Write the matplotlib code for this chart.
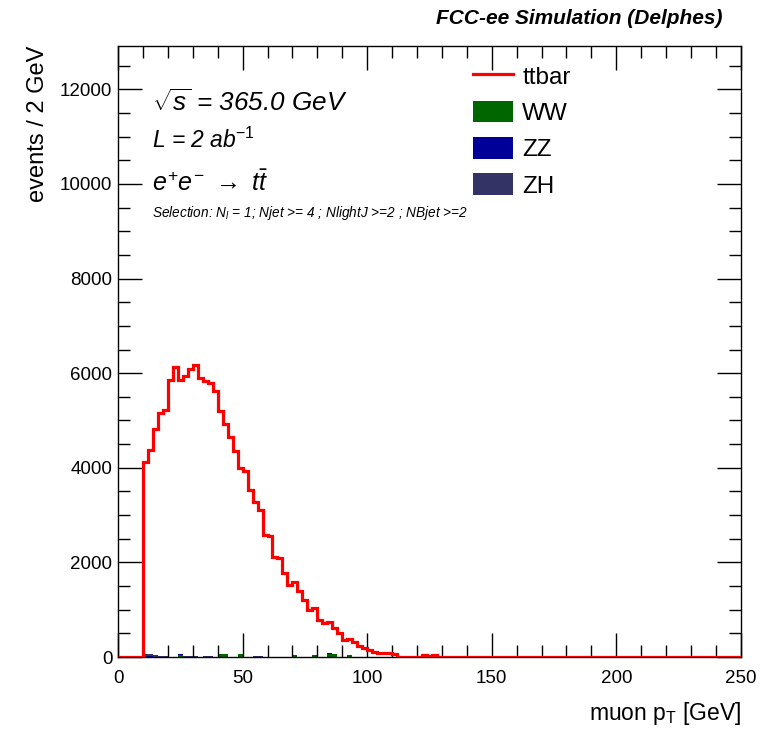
import numpy as np
import matplotlib
matplotlib.use("Agg")
from matplotlib import pyplot as plt
from matplotlib.patches import Patch
from matplotlib.lines import Line2D
from matplotlib.ticker import MultipleLocator

plt.rcParams['font.family'] = ['Liberation Sans', 'DejaVu Sans']
plt.rcParams['mathtext.fontset'] = 'custom'
plt.rcParams['mathtext.rm'] = 'Liberation Sans'
plt.rcParams['mathtext.it'] = 'Liberation Sans:italic'

# muon pT histogram, 2 GeV bins from 0 to 250
bin_width = 2
edges = np.arange(0, 252, bin_width)

# ttbar, bins starting at 10 GeV
ttbar_start = 10
ttbar_vals = [4120, 4380, 4810, 5150, 5220, 5860, 6120, 5860, 5950, 6080,
              6170, 5900, 5840, 5790, 5630, 5190, 4930, 4660, 4350, 3990,
              3930, 3530, 3270, 3100, 2580, 2560, 2120, 2090, 1770, 1520,
              1590, 1400, 1206, 995, 1030, 783, 713, 748, 607, 501,
              360, 390, 310, 233, 183, 148, 113, 92, 78, 75,
              63, 0, 0, 0, 0, 0, 50, 20, 50]

# backgrounds (low edge of bin, events)
ww_bins = [24, 40, 42, 48, 70, 78, 84, 86, 92, 122, 126]
ww_vals = [40, 55, 55, 60, 45, 50, 55, 55, 45, 50, 50]
zz_bins = [10, 12, 24, 42, 84]
zz_vals = [15, 15, 25, 15, 25]
zh_bins = [10, 12, 14, 16, 18, 26, 28, 30, 34, 36, 54, 56]
zh_vals = [40, 40, 35, 25, 20, 15, 15, 15, 20, 20, 20, 20]


def fill_hist(bins, vals):
    h = np.zeros(len(edges) - 1)
    for b, v in zip(bins, vals):
        h[int(b // bin_width)] = v
    return h


ttbar = np.zeros(len(edges) - 1)
i0 = ttbar_start // bin_width
ttbar[i0:i0 + len(ttbar_vals)] = ttbar_vals
ww = fill_hist(ww_bins, ww_vals)
zz = fill_hist(zz_bins, zz_vals)
zh = fill_hist(zh_bins, zh_vals)

c_tt, c_ww, c_zz, c_zh = "#ff0000", "#006600", "#000099", "#333366"

fig = plt.figure(figsize=(7.74, 7.36), dpi=100)
ax = fig.add_axes([0.1525, 0.1073, 0.8047, 0.8302])

# stacked backgrounds
lows = edges[:-1]
ax.bar(lows, ww, width=bin_width, align="edge", color=c_ww, lw=0)
ax.bar(lows, zz, width=bin_width, align="edge", bottom=ww, color=c_zz, lw=0)
ax.bar(lows, zh, width=bin_width, align="edge", bottom=ww + zz, color=c_zh, lw=0)

# signal line
ax.stairs(ttbar, edges, color=c_tt, lw=2.3, zorder=5)

ax.set_xlim(0, 250)
ax.set_ylim(0, 12915)
ax.xaxis.set_major_locator(MultipleLocator(50))
ax.xaxis.set_minor_locator(MultipleLocator(10))
ax.yaxis.set_major_locator(MultipleLocator(2000))
ax.yaxis.set_minor_locator(MultipleLocator(500))
ax.tick_params(which="both", direction="in", top=True, right=True,
               labelsize=13.5, width=1)
ax.tick_params(which="major", length=17)
ax.tick_params(which="minor", length=8.5)
ax.tick_params(axis="x", pad=9)
ax.tick_params(axis="y", pad=4)
for s in ax.spines.values():
    s.set_linewidth(1)

ax.set_xlabel(r"muon p$_{\mathrm{T}}$ [GeV]", fontsize=16.5, loc="right", labelpad=10)
ax.set_ylabel("events / 2 GeV", fontsize=17, loc="top", labelpad=8)

fig.text(0.934, 0.975, "FCC-ee Simulation (Delphes)", ha="right", va="center",
         fontsize=15, fontweight="bold", style="italic")

tx = 0.0546
ax.text(tx, 0.908, r"$\sqrt{s}$ = 365.0 GeV", transform=ax.transAxes,
        fontsize=18.8, style="italic", va="center")
ax.text(tx, 0.845, r"$\mathit{L}$ = 2 ab$^{\mathit{-1}}$", transform=ax.transAxes,
        fontsize=16.5, style="italic", va="center")
ax.text(tx, 0.776, r"$\mathit{e^{+}e^{-}}$ $\rightarrow$ $\mathit{t\bar{t}}$",
        transform=ax.transAxes, fontsize=18, va="center")
ax.text(tx, 0.726, r"Selection: N$_{\mathit{l}}$ = 1; Njet >= 4 ; NlightJ >=2 ; NBjet >=2",
        transform=ax.transAxes, fontsize=9.8, style="italic", va="center")

handles = [Line2D([], [], color=c_tt, lw=2.3),
           Patch(facecolor=c_ww), Patch(facecolor=c_zz), Patch(facecolor=c_zh)]
ax.legend(handles, ["ttbar", "WW", "ZZ", "ZH"], loc="upper left",
          bbox_to_anchor=(0.57, 0.970), frameon=False, fontsize=17.5,
          handlelength=1.65, handleheight=1.0, labelspacing=0.5,
          handletextpad=0.37, borderpad=0, borderaxespad=0)

fig.savefig("out.png", dpi=100)
